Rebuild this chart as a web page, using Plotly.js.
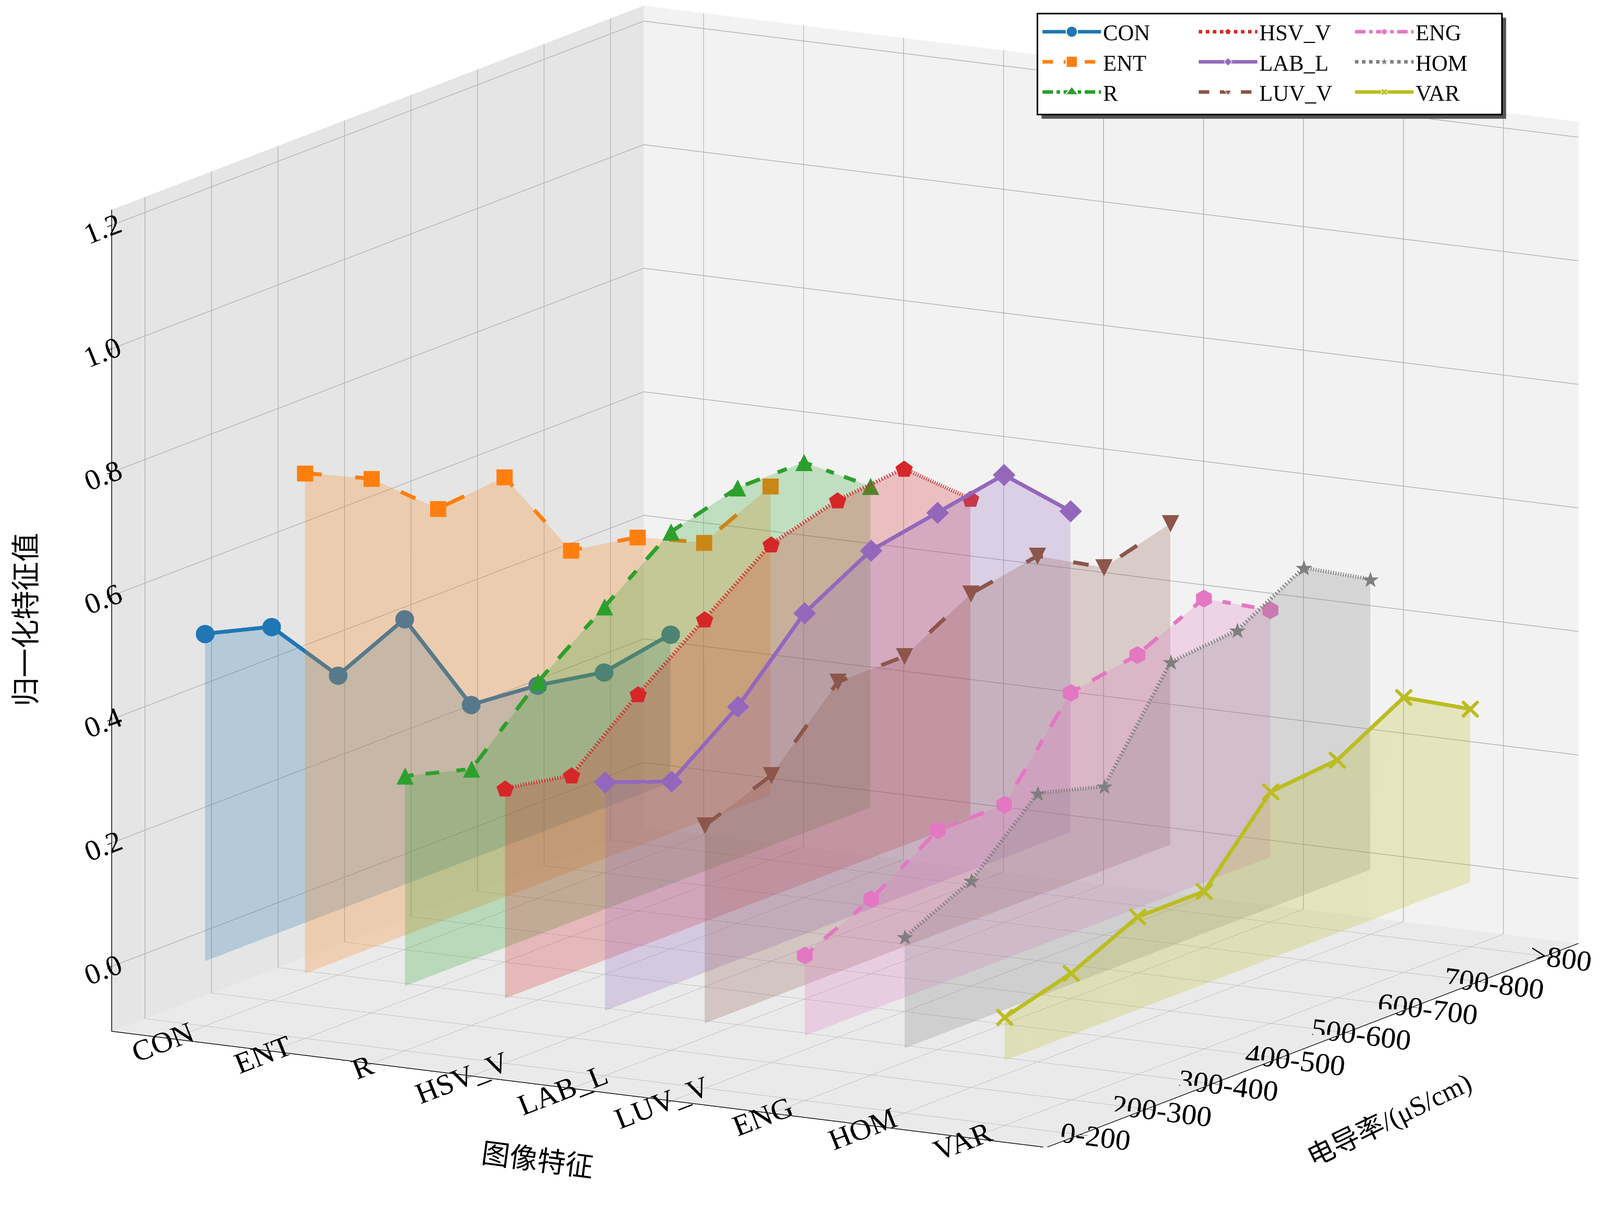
<!DOCTYPE html>
<html>
<head>
<meta charset="utf-8">
<script src="https://cdn.plot.ly/plotly-3.0.1.min.js"></script>
<style>
html,body{margin:0;padding:0;background:#fff;}
#chart{width:4181px;height:3136px;}
</style>
</head>
<body>
<div id="chart"></div>
<script>
// ---------------- data ----------------
const features = ['CON', 'ENT', 'R', 'HSV_V', 'LAB_L', 'LUV_V', 'ENG', 'HOM', 'VAR'];
const conductivity = ['0-200', '200-300', '300-400', '400-500', '500-600', '600-700', '700-800', '>800'];
const CON   = [0.53, 0.50, 0.38, 0.43, 0.25, 0.24, 0.22, 0.24];
const ENT   = [0.81, 0.76, 0.67, 0.68, 0.52, 0.50, 0.45, 0.50];
const R     = [0.34, 0.31, 0.41, 0.49, 0.57, 0.60, 0.60, 0.52];
const HSV_V = [0.34, 0.32, 0.41, 0.49, 0.57, 0.60, 0.61, 0.52];
const LAB_L = [0.37, 0.33, 0.41, 0.52, 0.58, 0.60, 0.62, 0.52];
const LUV_V = [0.32, 0.36, 0.47, 0.47, 0.53, 0.55, 0.49, 0.52];
const ENG   = [0.13, 0.18, 0.25, 0.25, 0.39, 0.41, 0.46, 0.40];
const HOM   = [0.18, 0.23, 0.33, 0.30, 0.46, 0.47, 0.53, 0.47];
const VAR   = [0.07, 0.10, 0.15, 0.15, 0.27, 0.28, 0.34, 0.28];
const zTicks = [0.0, 0.2, 0.4, 0.6, 0.8, 1.0, 1.2];

const seriesValues = [CON, ENT, R, HSV_V, LAB_L, LUV_V, ENG, HOM, VAR];

// ---------------- styles ----------------
const colors = ['#1f77b4', '#ff7f0e', '#2ca02c', '#d62728', '#9467bd', '#8c564b', '#e377c2', '#7f7f7f', '#bcbd22'];
const dash3d = ['solid', 'longdash', 'longdashdot', 'dot', 'solid', 'longdash', 'longdashdot', 'dot', 'solid'];
const dash2d = ['solid', 'dash', 'dashdot', 'dot', 'solid', 'dash', 'dashdot', 'dot', 'solid'];
const sym2d  = ['circle', 'square', 'triangle-up', 'pentagon', 'diamond', 'triangle-down', 'hexagon', 'star', 'x'];
const sym3d  = ['circle', 'square', '▲', '⬟', 'diamond', '▼', '⬢', '★', 'x'];
const size3d = [22, 17, 46, 42, 15, 46, 44, 44, 8];
const legendOf = ['legend', 'legend', 'legend', 'legend2', 'legend2', 'legend2', 'legend3', 'legend3', 'legend3'];

const SERIF = 'Liberation Serif, Times New Roman, serif';
const CJK = 'Liberation Serif, Noto Sans CJK SC, serif';

const traces = [];

// fills (mesh from each line down to z = 0)
seriesValues.forEach((vals, s) => {
  const xs = [], ys = [], zs = [], I = [], J = [], K = [];
  vals.forEach((v, j) => {
    xs.push(s, s); ys.push(j, j); zs.push(v, 0);
  });
  for (let j = 0; j < vals.length - 1; j++) {
    const t0 = 2 * j, b0 = 2 * j + 1, t1 = 2 * j + 2, b1 = 2 * j + 3;
    I.push(t0, b0); J.push(b0, b1); K.push(t1, t1);
  }
  traces.push({
    type: 'mesh3d', x: xs, y: ys, z: zs, i: I, j: J, k: K,
    color: colors[s], opacity: 0.25, flatshading: true,
    lighting: {ambient: 1, diffuse: 0, specular: 0, roughness: 1, fresnel: 0},
    hoverinfo: 'skip', showlegend: false, showscale: false
  });
});

// lines + markers
seriesValues.forEach((vals, s) => {
  const xs = vals.map(() => s);
  const ys = vals.map((v, j) => j);
  const native = ['circle', 'square', 'diamond', 'x'].includes(sym3d[s]);
  const tr = {
    type: 'scatter3d', x: xs, y: ys, z: vals, name: features[s],
    line: {color: colors[s], width: 16, dash: dash3d[s]},
    showlegend: false, hoverinfo: 'skip'
  };
  if (native) {
    tr.mode = 'lines+markers';
    tr.marker = {symbol: sym3d[s], size: size3d[s], color: colors[s]};
  } else {
    tr.mode = 'lines+text';
    tr.text = vals.map(() => sym3d[s]);
    tr.textposition = 'middle center';
    tr.textfont = {family: 'DejaVu Sans', size: size3d[s], color: colors[s]};
  }
  traces.push(tr);
});

// legend entries (2D proxies)
features.forEach((name, s) => {
  traces.push({
    type: 'scatter', x: [null], y: [null], name: name, mode: 'lines+markers',
    line: {color: colors[s], width: 9, dash: dash2d[s]},
    marker: {symbol: sym2d[s], size: 16, color: colors[s], line: {color: 'white', width: 1.5}},
    legend: legendOf[s], xaxis: 'x', yaxis: 'y', hoverinfo: 'skip', showlegend: true
  });
});

// camera from matplotlib-like view angles (orthographic)
const azimDeg = -63, elevDeg = 9.5;
const azim = azimDeg * Math.PI / 180, elev = elevDeg * Math.PI / 180;
const eye = {x: Math.cos(elev) * Math.cos(azim), y: Math.cos(elev) * Math.sin(azim), z: Math.sin(elev)};
const boxScale = 1.72;

const axisCommon = {
  showgrid: true, gridcolor: '#b0b0b0', gridwidth: 3,
  showline: true, linecolor: '#000', linewidth: 3,
  ticks: 'outside', ticklen: 18, tickwidth: 3, tickcolor: '#000',
  tickfont: {family: SERIF, size: 27, color: '#000'},
  showspikes: false, zeroline: false, title: {text: ''}, showbackground: true
};

const legendCommon = {
  bgcolor: 'rgba(0,0,0,0)', borderwidth: 0, orientation: 'v',
  font: {family: SERIF, size: 57, color: '#000'},
  itemwidth: 150, tracegroupgap: 0, xanchor: 'left', yanchor: 'top'
};

const L = 996 / 1568, Rr = 1442 / 1568, T = 1 - 13 / 1176, B = 1 - 110 / 1176;
const dx = 4 / 1568, dy = 4 / 1176;

const layout = {
  width: 4181, height: 3136,
  margin: {l: 0, r: 0, t: 0, b: 0},
  paper_bgcolor: '#fff', plot_bgcolor: 'rgba(0,0,0,0)',
  font: {family: SERIF, color: '#000'},
  xaxis: {visible: false, domain: [0, 0.001]},
  yaxis: {visible: false, domain: [0, 0.001]},
  scene: {
    domain: {x: [0, 1], y: [0, 1]},
    aspectmode: 'manual', aspectratio: {x: boxScale, y: boxScale, z: 0.80 * boxScale},
    camera: {eye: eye, center: {x: -0.0392, y: -0.0232, z: -0.060}, up: {x: 0, y: 0, z: 1},
             projection: {type: 'orthographic'}},
    xaxis: Object.assign({}, axisCommon, {
      range: [-0.6, 8.75], tickmode: 'array', tickvals: features.map((f, i) => i), ticktext: features,
      backgroundcolor: 'rgb(229,229,229)'
    }),
    yaxis: Object.assign({}, axisCommon, {
      range: [-0.5, 7.5], tickmode: 'array', tickvals: conductivity.map((c, i) => i), ticktext: conductivity,
      backgroundcolor: 'rgb(242,242,242)'
    }),
    zaxis: Object.assign({}, axisCommon, {
      range: [-0.105, 1.225], tickmode: 'array', tickvals: zTicks, ticktext: zTicks.map(v => v.toFixed(1)),
      backgroundcolor: 'rgb(234,234,234)'
    })
  },
  legend:  Object.assign({}, legendCommon, {x: 999 / 1568, y: 0.988}),
  legend2: Object.assign({}, legendCommon, {x: 1149 / 1568, y: 0.988}),
  legend3: Object.assign({}, legendCommon, {x: 1299 / 1568, y: 0.988}),
  shapes: [
    {type: 'rect', xref: 'paper', yref: 'paper', x0: L + dx, x1: Rr + dx, y0: B - dy, y1: T - dy,
     fillcolor: '#555', line: {width: 0}, layer: 'above'},
    {type: 'rect', xref: 'paper', yref: 'paper', x0: L, x1: Rr, y0: B, y1: T,
     fillcolor: '#fff', line: {color: '#000', width: 4}, layer: 'above'}
  ],
  annotations: [
    {text: '图像特征', xref: 'paper', yref: 'paper', x: 516 / 1568, y: 1 - 1114 / 1176, showarrow: false,
     xanchor: 'center', yanchor: 'middle',
     textangle: 7.5, font: {family: CJK, size: 72, color: '#000'}},
    {text: '电导率/(μS/cm)', xref: 'paper', yref: 'paper', x: 1334 / 1568, y: 1 - 1075 / 1176, showarrow: false,
     xanchor: 'center', yanchor: 'middle',
     textangle: -26, font: {family: CJK, size: 70, color: '#000'}},
    {text: '归一化特征值', xref: 'paper', yref: 'paper', x: 25 / 1568, y: 1 - 595 / 1176, showarrow: false,
     xanchor: 'center', yanchor: 'middle',
     textangle: -90, font: {family: CJK, size: 74, color: '#000'}}
  ]
};

// enlarge legend marker glyphs (Plotly caps legend marker size)
function enlargeLegendMarkers(gd) {
  gd.querySelectorAll('.legend .legendpoints path.scatterpts').forEach(el => {
    const t = el.getAttribute('transform') || '';
    if (!/scale/.test(t)) el.setAttribute('transform', t + ' scale(1.8)');
  });
}

Plotly.newPlot('chart', traces, layout, {displayModeBar: false, responsive: false})
  .then(gd => enlargeLegendMarkers(gd));
</script>
</body>
</html>
